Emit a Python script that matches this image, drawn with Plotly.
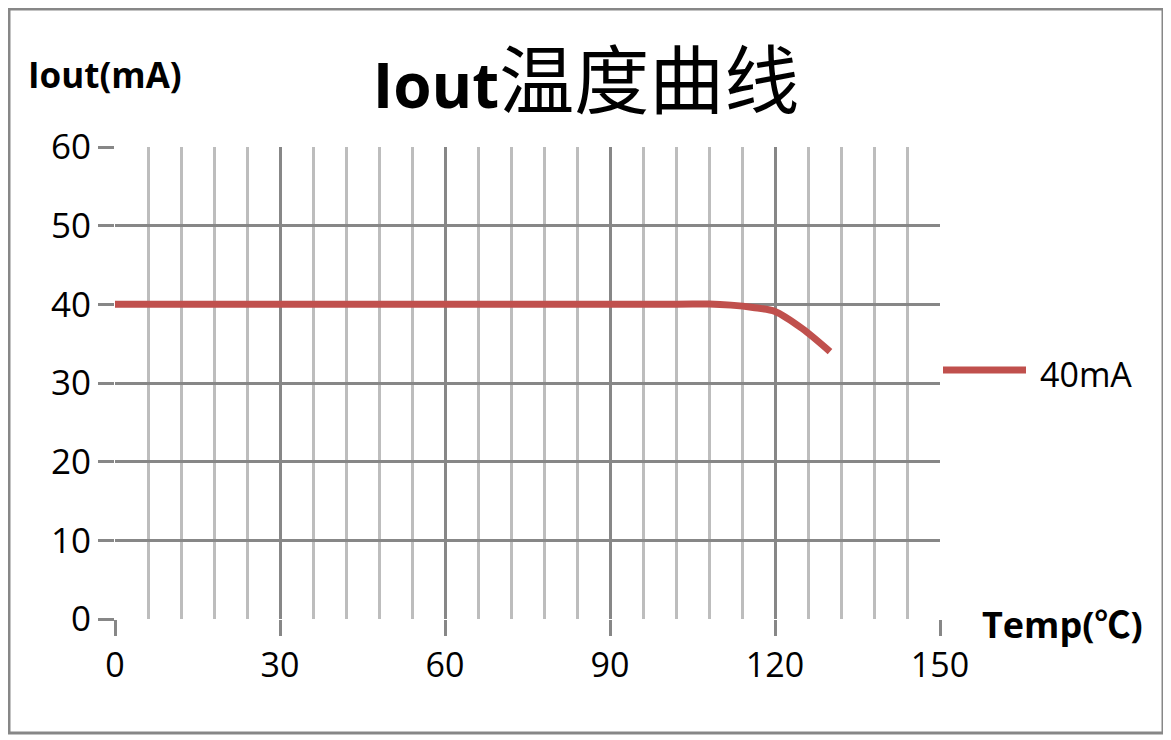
import plotly.graph_objects as go

temps = [0, 10, 20, 30, 40, 50, 60, 70, 80, 90, 100, 105, 108, 112, 116, 120, 125, 130]
iout_40ma = [40, 40, 40, 40, 40, 40, 40, 40, 40, 40, 40, 40.05, 40.05, 39.9, 39.6, 39.1, 36.9, 34.0]
series_name = "40mA"
x_ticks = [0, 30, 60, 90, 120, 150]
y_ticks = [0, 10, 20, 30, 40, 50, 60]

# page body has an 8px margin; target coords are screenshot pixels
D = 8
W, H = 1160, 728
L, R, T, B = 115 - D, 940 - D, 147 - D, 619 - D
pw, ph = R - L, B - T

def px(xs):
    return (xs - D - L) / pw

def py(ys):
    return (B - (ys - D)) / ph

RED = "#C0504D"
MAJ = "#878787"
MIN = "#BDBDBD"
FONT = "Open Sans, Noto Sans, Noto Sans CJK SC, sans-serif"
CJK = "Noto Sans CJK SC, sans-serif"

fig = go.Figure()
fig.add_trace(go.Scatter(
    x=temps, y=iout_40ma, mode="lines", name=series_name,
    line=dict(color=RED, width=7, shape="spline", smoothing=0.8),
    showlegend=False,
))

fig.update_layout(
    width=W, height=H,
    margin=dict(l=L, r=W - R, t=T, b=H - B, autoexpand=False),
    paper_bgcolor="white", plot_bgcolor="white",
    font=dict(family=FONT, color="black"),
    title=dict(
        text="<b>Iout</b><span style='font-size:75px;font-family:" + CJK + "'>温度曲线</span>",
        xref="paper", x=px(586), xanchor="center",
        yref="container", y=1 - (86 - D) / H, yanchor="middle",
        font=dict(size=62, family=FONT, color="black"),
    ),
    xaxis=dict(
        range=[0, 150], tickvals=x_ticks, ticktext=[str(v) for v in x_ticks],
        showgrid=True, gridcolor=MAJ, gridwidth=2.5,
        zeroline=False, showline=False,
        ticks="outside", ticklen=16, tickwidth=2.5, tickcolor=MAJ,
        tickfont=dict(size=34, family=FONT),
        minor=dict(dtick=6, showgrid=True, gridcolor=MIN, gridwidth=2.5, ticks=""),
        fixedrange=True,
    ),
    yaxis=dict(
        range=[0, 60], tickvals=y_ticks, ticktext=[str(v) for v in y_ticks],
        showgrid=True, gridcolor=MAJ, gridwidth=2.5,
        zeroline=False, showline=False,
        ticks="outside", ticklen=16, tickwidth=2.5, tickcolor=MAJ,
        tickfont=dict(size=35, family=FONT),
        fixedrange=True,
    ),
    annotations=[
        dict(text="<b>Iout(mA)</b>", xref="paper", yref="paper",
             x=px(26), y=py(75), xanchor="left", yanchor="middle",
             showarrow=False, font=dict(size=35, family=FONT)),
        dict(text="<b>Temp(</b><span style='font-family:" + CJK + "'><b>℃</b></span><b>)</b>",
             xref="paper", yref="paper",
             x=px(980), y=py(622), xanchor="left", yanchor="middle",
             showarrow=False, font=dict(size=36, family=FONT)),
        dict(text=series_name, xref="paper", yref="paper",
             x=px(1038), y=py(374), xanchor="left", yanchor="middle",
             showarrow=False, font=dict(size=34, family=FONT)),
    ],
    shapes=[
        dict(type="rect", xref="paper", yref="paper",
             x0=px(9), x1=px(1163), y0=py(733), y1=py(9),
             line=dict(color=MAJ, width=3), fillcolor="rgba(0,0,0,0)", layer="below"),
        dict(type="line", xref="paper", yref="paper",
             x0=px(943), x1=px(1026), y0=py(370), y1=py(370),
             line=dict(color=RED, width=7)),
    ],
)

fig.write_html("out.html")
